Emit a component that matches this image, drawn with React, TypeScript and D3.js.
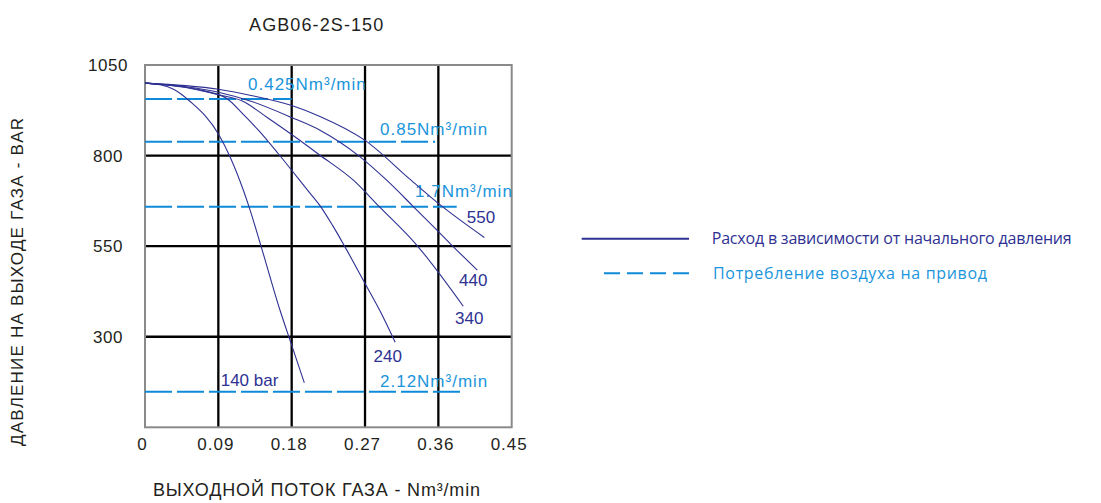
import React from "react";
import * as d3 from "d3";

// ---------- data ----------
const chartTitle = "AGB06-2S-150";
const xTitle = "ВЫХОДНОЙ ПОТОК ГАЗА - Nm³/min";
const yTitle = "ДАВЛЕНИЕ НА ВЫХОДЕ ГАЗА - BAR";
const xTicks = [0, 0.09, 0.18, 0.27, 0.36, 0.45];
const yTicks = [1050, 800, 550, 300];
const xDomain = [0, 0.45];
const yDomain = [50, 1050];

const curveLabels = ["140 bar", "240", "340", "440", "550"];
const curve140: [number, number][] = [
  [0, 1000], [0.02, 995], [0.035, 983], [0.055, 950], [0.0908, 857], [0.1043, 797],
  [0.1206, 705], [0.1276, 659], [0.142, 553], [0.1657, 373], [0.178, 290], [0.1955, 173],
];
const curve240: [number, number][] = [
  [0, 1000], [0.04, 992], [0.07, 980], [0.1, 958], [0.12, 915], [0.14, 868], [0.1636, 805],
  [0.2004, 702], [0.2147, 662], [0.23, 608], [0.2454, 548], [0.27, 447], [0.288, 373], [0.307, 285],
];
const curve340: [number, number][] = [
  [0, 1000], [0.05, 988], [0.09, 968], [0.12, 950], [0.15, 905], [0.18, 858], [0.2147, 801],
  [0.2557, 732], [0.2875, 659], [0.3334, 553], [0.3906, 384],
];
const curve440: [number, number][] = [
  [0, 1000], [0.05, 990], [0.09, 975], [0.13, 950], [0.18, 905], [0.2147, 870], [0.262, 800],
  [0.2966, 732], [0.329, 660], [0.36, 590], [0.3763, 553], [0.4078, 484],
];
const curve550: [number, number][] = [
  [0, 1000], [0.05, 993], [0.09, 983], [0.13, 966], [0.18, 938], [0.2147, 908], [0.27, 842],
  [0.325, 735], [0.36, 668], [0.4164, 574],
];
const curves = [curve140, curve240, curve340, curve440, curve550];

const airLabels = ["0.425Nm³/min", "0.85Nm³/min", "1.7Nm³/min", "2.12Nm³/min"];
const airPressure = [956, 838, 659, 148];
const airEndFlow = [0.18, 0.356, 0.3825, 0.39];

const legendLabels = ["Расход в зависимости от начального давления", "Потребление воздуха на привод"];

// ---------- layout (styles/positions) ----------
const W = 1101, H = 503;
const plot = { left: 145, right: 511.7, top: 65, bottom: 427.3 };
const NAVY = "#2e3192";
const BLUE = "#0f8ad8";
const BLUE_TEXT = "#1b95dc";
const DARK = "#231f20";
// label offsets relative to curve end (px)
const curveLabelOffset: [number, number][] = [[-83.6, 3], [-21.7, 20], [-8.3, 18], [-18.3, 16], [-17.6, -14.6]];
// air label anchor: left x (px), baseline offset above line (px)
const airLabelX = [248, 380, 415, 380];
const airLabelDy = [-9, -6.7, -9.7, -4.7];
const legendTextWidth = [360, 274];

export default function App() {
  const x = d3.scaleLinear().domain(xDomain).range([plot.left, plot.right]);
  const y = d3.scaleLinear().domain(yDomain).range([plot.bottom, plot.top]);
  const line = d3
    .line<[number, number]>()
    .x((d) => x(d[0]))
    .y((d) => y(d[1]))
    .curve(d3.curveMonotoneX);

  const font = "'Liberation Sans', Arial, sans-serif";
  const legendFont = "'Open Sans', sans-serif";

  return (
    <svg
      width={W}
      height={H}
      style={{ position: "absolute", left: 0, top: 0, background: "#fff" }}
      fontFamily={font}
    >
      <rect x={0} y={0} width={W} height={H} fill="#fff" />
      {/* title */}
      <text x={316.7} y={31} textAnchor="middle" fontSize={18} letterSpacing={1.1} fill={DARK}>
        {chartTitle}
      </text>

      {/* grid */}
      {xTicks.slice(1, -1).map((t) => (
        <line key={"gx" + t} x1={x(t)} x2={x(t)} y1={plot.top} y2={plot.bottom} stroke="#000" strokeWidth={2.3} />
      ))}
      {yTicks.slice(1).map((t) => (
        <line key={"gy" + t} x1={plot.left} x2={plot.right} y1={y(t)} y2={y(t)} stroke="#000" strokeWidth={2.3} />
      ))}
      <rect
        x={plot.left}
        y={plot.top}
        width={plot.right - plot.left}
        height={plot.bottom - plot.top}
        fill="none"
        stroke="#8a8a8a"
        strokeWidth={2}
      />

      {/* tick labels */}
      {xTicks.map((t) => (
        <text key={"xt" + t} x={x(t) - 2.5} y={450} textAnchor="middle" fontSize={17} letterSpacing={1} fill={DARK}>
          {t === 0 ? "0" : d3.format(".2f")(t)}
        </text>
      ))}
      {yTicks.map((t) => (
        <text key={"yt" + t} x={108} y={y(t)} dy="0.35em" textAnchor="middle" fontSize={17} letterSpacing={0.5} fill={DARK}>
          {t}
        </text>
      ))}

      {/* air consumption dashed lines */}
      {airLabels.map((lab, i) => (
        <g key={"air" + i}>
          <line
            x1={x(0)}
            x2={x(airEndFlow[i])}
            y1={y(airPressure[i])}
            y2={y(airPressure[i])}
            stroke={BLUE}
            strokeWidth={2}
            strokeDasharray="27 5"
          />
          <text x={airLabelX[i]} y={y(airPressure[i]) + airLabelDy[i]} fontSize={17} letterSpacing={1} fill={BLUE_TEXT}>
            {lab}
          </text>
        </g>
      ))}

      {/* pressure curves */}
      {curves.map((c, i) => {
        const end = c[c.length - 1];
        return (
          <g key={"c" + i}>
            <path d={line(c) || ""} fill="none" stroke={NAVY} strokeWidth={1.1} />
            <text
              x={x(end[0]) + curveLabelOffset[i][0]}
              y={y(end[1]) + curveLabelOffset[i][1]}
              fontSize={17}
              fill={NAVY}
            >
              {curveLabels[i]}
            </text>
          </g>
        );
      })}

      {/* axis titles */}
      <text x={316.5} y={496} textAnchor="middle" fontSize={18} textLength={327} lengthAdjust="spacing" fill={DARK}>
        {xTitle}
      </text>
      <text
        transform="translate(23,282) rotate(-90)"
        textAnchor="middle"
        fontSize={17}
        textLength={328}
        lengthAdjust="spacing"
        fill={DARK}
      >
        {yTitle}
      </text>

      {/* legend */}
      <line x1={581.7} x2={689} y1={238.7} y2={238.7} stroke={NAVY} strokeWidth={2} />
      <text x={711.7} y={244.2} fontSize={16} textLength={legendTextWidth[0]} lengthAdjust="spacing" fontFamily={legendFont} fill={NAVY}>
        {legendLabels[0]}
      </text>
      <line x1={604} x2={689} y1={273.3} y2={273.3} stroke={BLUE} strokeWidth={2} strokeDasharray="16 7" />
      <text x={713} y={278.8} fontSize={16} textLength={legendTextWidth[1]} lengthAdjust="spacing" fontFamily={legendFont} fill={BLUE_TEXT}>
        {legendLabels[1]}
      </text>
    </svg>
  );
}
